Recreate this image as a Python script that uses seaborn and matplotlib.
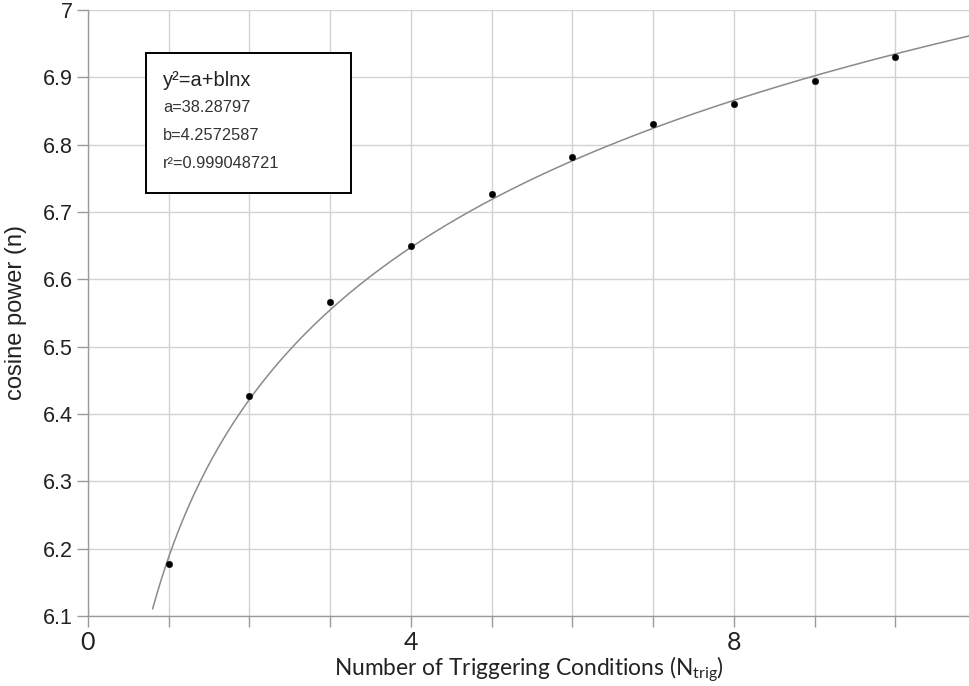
import numpy as np
import pandas as pd
import matplotlib
matplotlib.use("Agg")
import matplotlib.pyplot as plt
from matplotlib.ticker import MultipleLocator, FuncFormatter
import seaborn as sns

# Measured cosine power for each number of triggering conditions
n_trig = [1, 2, 3, 4, 5, 6, 7, 8, 9, 10]
cos_power = [6.177, 6.427, 6.567, 6.649, 6.727, 6.781, 6.830, 6.861, 6.894, 6.930]

# Fit y^2 = a + b ln x (coefficients as reported in the legend box)
fit_a = 38.28797
fit_b = 4.2572587
fit_r2 = 0.999048721

sns.set_theme(style="white")
plt.rcParams["font.family"] = ["Liberation Sans", "DejaVu Sans"]

fig = plt.figure(figsize=(9.70, 6.86), dpi=100)
ax = fig.add_axes([88 / 970, 1 - 616 / 686, 1 - 88 / 970, (616 - 10) / 686])

# Fitted curve
x_fit = np.linspace(0.8, 11.0, 400)
fit_df = pd.DataFrame({"x": x_fit, "y": np.sqrt(fit_a + fit_b * np.log(x_fit))})
sns.lineplot(data=fit_df, x="x", y="y", ax=ax, color="#8a8a8a", linewidth=1.1,
             zorder=3)

# Data points
pts = pd.DataFrame({"n": n_trig, "p": cos_power})
sns.scatterplot(data=pts, x="n", y="p", ax=ax, color="black", s=22,
                edgecolor="black", linewidth=0.3, zorder=4)

ax.set_xlim(0, (970 - 88) / 80.75)
ax.set_ylim(6.1, 7.0)

ax.xaxis.set_major_locator(MultipleLocator(4))
ax.xaxis.set_minor_locator(MultipleLocator(1))
ax.yaxis.set_major_locator(MultipleLocator(0.1))
ax.yaxis.set_major_formatter(FuncFormatter(
    lambda v, _: "7" if abs(v - 7) < 1e-9 else f"{v:.1f}"))

ax.grid(True, which="both", axis="x", color="#d2d2d2", linewidth=1.0)
ax.grid(True, which="major", axis="y", color="#d2d2d2", linewidth=1.0)

for side in ["top", "right"]:
    ax.spines[side].set_visible(False)
for side in ["left", "bottom"]:
    ax.spines[side].set_color("#9a9a9a")
    ax.spines[side].set_linewidth(1.0)

ax.tick_params(axis="y", which="major", direction="out", length=8, width=1,
               color="#9a9a9a", labelsize=15.5, pad=3, left=True,
               labelcolor="#222222")
ax.tick_params(axis="x", which="both", direction="out", length=8, width=1,
               color="#9a9a9a", bottom=True)
ax.tick_params(axis="x", which="major", labelsize=18, pad=3,
               labelcolor="#222222")
for lbl in ax.get_xticklabels():
    lbl.set_family("Lato")

ax.set_ylabel("cosine power (n)", fontsize=17, labelpad=11, color="#222222")
ax.set_xlabel(r"Number of Triggering Conditions (N$\mathregular{_{trig}}$)",
              fontsize=16.4, family="Lato", labelpad=0, color="#222222")

# Fit equation box
box_x0, box_y0 = 146 / 970, 1 - 193 / 686
box_w, box_h = (351 - 146) / 970, (193 - 53) / 686
fig.patches.append(plt.Rectangle((box_x0, box_y0), box_w, box_h,
                                 transform=fig.transFigure, facecolor="white",
                                 edgecolor="black", linewidth=1.4, zorder=10))
tx = 163 / 970
fig.text(tx, 1 - 80 / 686, "y\u00b2=a+blnx", fontsize=14.5, va="center",
         color="#222222", zorder=11)
fig.text(tx, 1 - 108 / 686, f"a={fit_a}", fontsize=11.8, va="center",
         color="#333333", zorder=11)
fig.text(tx, 1 - 135 / 686, f"b={fit_b}", fontsize=11.8, va="center",
         color="#333333", zorder=11)
fig.text(tx, 1 - 163 / 686, f"r\u00b2={fit_r2}", fontsize=11.8, va="center",
         color="#333333", zorder=11)

fig.savefig("out.png", dpi=100)
